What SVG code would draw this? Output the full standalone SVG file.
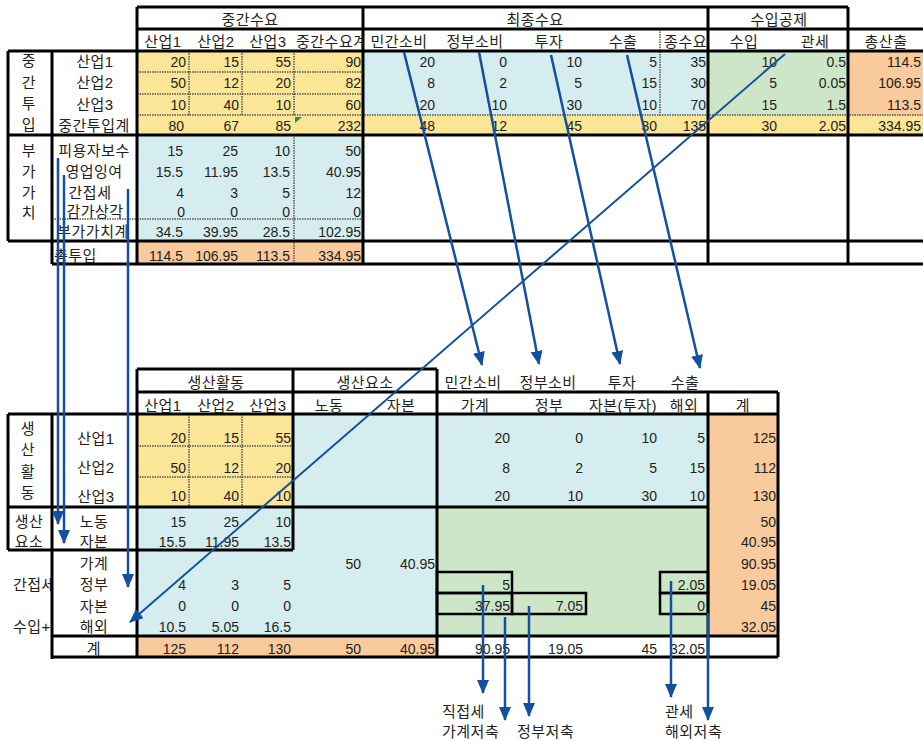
<svg xmlns="http://www.w3.org/2000/svg" width="923" height="741" viewBox="0 0 923 741">
<style>
text{font-family:"Liberation Sans","Noto Sans CJK KR",sans-serif;font-size:14px;fill:#231f20}
.k{font-size:15px;letter-spacing:0.5px}
.m{text-anchor:middle}
.e{text-anchor:end}
.y{fill:#FAE696}
.b{fill:#D5EDEE}
.g{fill:#CDE6C7}
.o{fill:#F8CA9C}
.t{stroke:#000;stroke-width:3;fill:none}
.d{stroke:#555;stroke-width:1.5;stroke-dasharray:1.5 1;fill:none}
.bx{stroke:#000;stroke-width:2.5;fill:none}
.c{stroke:#1450A0;stroke-width:2.5;fill:none;marker-end:url(#ah)}
.c2{stroke:#1450A0;stroke-width:2;fill:none;marker-end:url(#ah)}
</style>
<defs>
<marker id="ah" viewBox="0 0 14 12" refX="13" refY="6" markerWidth="14" markerHeight="12" markerUnits="userSpaceOnUse" orient="auto"><path d="M0,0L14,6L0,12z" fill="#1450A0"/></marker>
<clipPath id="c1"><rect x="294" y="29" width="69" height="22"/></clipPath>
<clipPath id="c2"><rect x="0" y="565" width="52" height="35"/></clipPath>
</defs>
<rect width="923" height="741" fill="#fff"/>

<g id="top-table">
<rect class="y" x="137" y="51" width="226" height="64"/>
<rect class="b" x="363" y="51" width="345" height="64"/>
<rect class="g" x="708" y="51" width="140" height="64"/>
<rect class="o" x="848" y="51" width="75" height="64"/>
<rect class="y" x="137" y="115" width="786" height="20"/>
<rect class="b" x="137" y="135" width="226" height="106"/>
<rect class="o" x="137" y="241" width="226" height="23"/>
<path class="d" d="M189,51V115M242,51V115M294,51V115M137,72H363M137,94H363M137,115H923M660,29V115M294,135V264M52,219H363"/>
<path class="t" d="M137,7H848M137,29H923M8,51H923M8,135H923M8,241H923M52,264H923M8,51V241M52,51V264M137,7V264M363,7V264M708,7V264M848,7V264"/>
<polygon points="295,117 302,117 295,123" fill="#3A8A3A"/>
</g>

<g id="top-headers">
<text class="k m" x="250" y="25">중간수요</text>
<text class="k m" x="535" y="25">최종수요</text>
<text class="k m" x="779" y="25">수입공제</text>
<text class="k m" x="163" y="47">산업1</text>
<text class="k m" x="216" y="47">산업2</text>
<text class="k m" x="268" y="47">산업3</text>
<text class="k" x="296" y="47" clip-path="url(#c1)">중간수요계</text>
<text class="k m" x="399" y="47">민간소비</text>
<text class="k m" x="475" y="47">정부소비</text>
<text class="k m" x="549" y="47">투자</text>
<text class="k m" x="623" y="47">수출</text>
<text class="k e" x="707" y="47">종수요</text>
<text class="k m" x="744" y="47">수입</text>
<text class="k m" x="815" y="47">관세</text>
<text class="k m" x="886" y="47">총산출</text>
</g>

<g id="top-row-labels">
<text class="k m" x="29" y="66">중</text>
<text class="k m" x="29" y="88">간</text>
<text class="k m" x="29" y="109">투</text>
<text class="k m" x="29" y="130">입</text>
<text class="k m" x="29" y="156">부</text>
<text class="k m" x="29" y="177">가</text>
<text class="k m" x="29" y="198">가</text>
<text class="k m" x="29" y="218">치</text>
<text class="k m" x="95" y="67">산업1</text>
<text class="k m" x="95" y="88">산업2</text>
<text class="k m" x="95" y="110">산업3</text>
<text class="k m" x="94" y="131">중간투입계</text>
<text class="k m" x="94" y="156">피용자보수</text>
<text class="k m" x="94" y="177">영업잉여</text>
<text class="k m" x="90" y="198">간접세</text>
<text class="k m" x="95" y="217">감가상각</text>
<text class="k m" x="93" y="237">부가가치계</text>
<text class="k" x="54" y="261">총투입</text>
</g>

<g id="top-values">
<text class="e" x="186" y="67">20</text><text class="e" x="239" y="67">15</text><text class="e" x="291" y="67">55</text><text class="e" x="361" y="67">90</text>
<text class="e" x="435" y="67">20</text><text class="e" x="507" y="67">0</text><text class="e" x="582" y="67">10</text><text class="e" x="657" y="67">5</text><text class="e" x="706" y="67">35</text>
<text class="e" x="777" y="67">10</text><text class="e" x="846" y="67">0.5</text><text class="e" x="921" y="67">114.5</text>

<text class="e" x="186" y="88">50</text><text class="e" x="239" y="88">12</text><text class="e" x="291" y="88">20</text><text class="e" x="361" y="88">82</text>
<text class="e" x="435" y="88">8</text><text class="e" x="507" y="88">2</text><text class="e" x="582" y="88">5</text><text class="e" x="657" y="88">15</text><text class="e" x="706" y="88">30</text>
<text class="e" x="777" y="88">5</text><text class="e" x="846" y="88">0.05</text><text class="e" x="921" y="88">106.95</text>

<text class="e" x="186" y="110">10</text><text class="e" x="239" y="110">40</text><text class="e" x="291" y="110">10</text><text class="e" x="361" y="110">60</text>
<text class="e" x="435" y="110">20</text><text class="e" x="507" y="110">10</text><text class="e" x="582" y="110">30</text><text class="e" x="657" y="110">10</text><text class="e" x="706" y="110">70</text>
<text class="e" x="777" y="110">15</text><text class="e" x="846" y="110">1.5</text><text class="e" x="921" y="110">113.5</text>

<text class="e" x="184" y="131">80</text><text class="e" x="239" y="131">67</text><text class="e" x="291" y="131">85</text><text class="e" x="361" y="131">232</text>
<text class="e" x="435" y="131">48</text><text class="e" x="507" y="131">12</text><text class="e" x="582" y="131">45</text><text class="e" x="657" y="131">30</text><text class="e" x="706" y="131">135</text>
<text class="e" x="777" y="131">30</text><text class="e" x="846" y="131">2.05</text><text class="e" x="921" y="131">334.95</text>

<text class="e" x="183" y="156">15</text><text class="e" x="238" y="156">25</text><text class="e" x="290" y="156">10</text><text class="e" x="361" y="156">50</text>
<text class="e" x="183" y="177">15.5</text><text class="e" x="238" y="177">11.95</text><text class="e" x="290" y="177">13.5</text><text class="e" x="361" y="177">40.95</text>
<text class="e" x="184" y="198">4</text><text class="e" x="238" y="198">3</text><text class="e" x="290" y="198">5</text><text class="e" x="361" y="198">12</text>
<text class="e" x="185" y="217">0</text><text class="e" x="238" y="217">0</text><text class="e" x="290" y="217">0</text><text class="e" x="361" y="217">0</text>
<text class="e" x="183" y="237">34.5</text><text class="e" x="238" y="237">39.95</text><text class="e" x="290" y="237">28.5</text><text class="e" x="361" y="237">102.95</text>
<text class="e" x="183" y="261">114.5</text><text class="e" x="238" y="261">106.95</text><text class="e" x="290" y="261">113.5</text><text class="e" x="361" y="261">334.95</text>
</g>

<g id="bottom-table">
<rect class="y" x="137" y="414" width="156" height="93"/>
<rect class="b" x="293" y="414" width="144" height="222"/>
<rect class="b" x="137" y="507" width="156" height="129"/>
<rect class="b" x="437" y="414" width="271" height="93"/>
<rect class="g" x="437" y="507" width="271" height="129"/>
<rect class="o" x="708" y="414" width="70" height="222"/>
<rect class="o" x="137" y="636" width="300" height="21"/>
<path class="d" d="M189,414V507M242,414V507M137,446H293M137,477H293"/>
<path class="t" d="M137,369H437M137,392H778M8,414H778M8,507H708M8,550H293M52,636H778M52,657H778M8,414V550M52,414V659M137,369V657M293,369V550M437,369V657M708,392V657M778,392V657"/>
</g>

<g id="bottom-boxes">
<rect class="bx" x="437" y="572" width="75" height="21"/>
<rect class="bx" x="437" y="593" width="75" height="21"/>
<rect class="bx" x="512" y="593" width="74" height="21"/>
<rect class="bx" x="660" y="572" width="48" height="21"/>
<rect class="bx" x="660" y="593" width="48" height="21"/>
</g>

<g id="bottom-headers">
<text class="k m" x="216" y="388">생산활동</text>
<text class="k m" x="365" y="388">생산요소</text>
<text class="k m" x="473" y="388">민간소비</text>
<text class="k m" x="548" y="388">정부소비</text>
<text class="k m" x="622" y="388">투자</text>
<text class="k m" x="685" y="388">수출</text>
<text class="k m" x="163" y="411">산업1</text>
<text class="k m" x="216" y="411">산업2</text>
<text class="k m" x="268" y="411">산업3</text>
<text class="k m" x="329" y="411">노동</text>
<text class="k m" x="401" y="411">자본</text>
<text class="k m" x="475" y="411">가계</text>
<text class="k m" x="549" y="411">정부</text>
<text class="k m" x="623" y="411">자본(투자)</text>
<text class="k m" x="684" y="411">해외</text>
<text class="k m" x="743" y="411">계</text>
</g>

<g id="bottom-row-labels">
<text class="k m" x="28" y="434">생</text>
<text class="k m" x="28" y="455">산</text>
<text class="k m" x="28" y="477">활</text>
<text class="k m" x="28" y="498">동</text>
<text class="k m" x="29" y="527">생산</text>
<text class="k m" x="29" y="547">요소</text>
<text class="k" x="13" y="590" clip-path="url(#c2)">간접세</text>
<text class="k" x="13" y="632">수입+</text>
<text class="k m" x="96" y="444">산업1</text>
<text class="k m" x="96" y="473">산업2</text>
<text class="k m" x="96" y="502">산업3</text>
<text class="k m" x="94" y="527">노동</text>
<text class="k m" x="94" y="547">자본</text>
<text class="k m" x="94" y="569">가계</text>
<text class="k m" x="94" y="590">정부</text>
<text class="k m" x="94" y="612">자본</text>
<text class="k m" x="94" y="632">해외</text>
<text class="k m" x="94" y="654">계</text>
</g>

<g id="bottom-values">
<text class="e" x="186" y="443">20</text><text class="e" x="239" y="443">15</text><text class="e" x="291" y="443">55</text>
<text class="e" x="510" y="443">20</text><text class="e" x="583" y="443">0</text><text class="e" x="657" y="443">10</text><text class="e" x="705" y="443">5</text><text class="e" x="776" y="443">125</text>
<text class="e" x="186" y="473">50</text><text class="e" x="239" y="473">12</text><text class="e" x="291" y="473">20</text>
<text class="e" x="510" y="473">8</text><text class="e" x="583" y="473">2</text><text class="e" x="657" y="473">5</text><text class="e" x="705" y="473">15</text><text class="e" x="776" y="473">112</text>
<text class="e" x="186" y="501">10</text><text class="e" x="239" y="501">40</text><text class="e" x="291" y="501">10</text>
<text class="e" x="510" y="501">20</text><text class="e" x="583" y="501">10</text><text class="e" x="657" y="501">30</text><text class="e" x="705" y="501">10</text><text class="e" x="776" y="501">130</text>
<text class="e" x="186" y="527">15</text><text class="e" x="239" y="527">25</text><text class="e" x="291" y="527">10</text><text class="e" x="776" y="527">50</text>
<text class="e" x="186" y="547">15.5</text><text class="e" x="239" y="547">11.95</text><text class="e" x="291" y="547">13.5</text><text class="e" x="776" y="547">40.95</text>
<text class="e" x="361" y="569">50</text><text class="e" x="435" y="569">40.95</text><text class="e" x="776" y="569">90.95</text>
<text class="e" x="186" y="590">4</text><text class="e" x="239" y="590">3</text><text class="e" x="291" y="590">5</text>
<text class="e" x="510" y="590">5</text><text class="e" x="705" y="590">2.05</text><text class="e" x="776" y="590">19.05</text>
<text class="e" x="186" y="611">0</text><text class="e" x="239" y="611">0</text><text class="e" x="291" y="611">0</text>
<text class="e" x="510" y="611">37.95</text><text class="e" x="583" y="611">7.05</text><text class="e" x="705" y="611">0</text><text class="e" x="776" y="611">45</text>
<text class="e" x="186" y="632">10.5</text><text class="e" x="239" y="632">5.05</text><text class="e" x="291" y="632">16.5</text><text class="e" x="776" y="632">32.05</text>
<text class="e" x="186" y="654">125</text><text class="e" x="239" y="654">112</text><text class="e" x="291" y="654">130</text><text class="e" x="361" y="654">50</text><text class="e" x="435" y="654">40.95</text>
<text class="e" x="510" y="654">90.95</text><text class="e" x="583" y="654">19.05</text><text class="e" x="657" y="654">45</text><text class="e" x="705" y="654">32.05</text>
</g>

<g id="connectors">
<path class="c" d="M404,52L482,365"/>
<path class="c" d="M479,52L539,364"/>
<path class="c" d="M551,55L620,364"/>
<path class="c" d="M627,55L700,368"/>
<path class="c2" d="M785,54L130,622"/>
<path class="c" d="M58,158V524"/>
<path class="c" d="M64,175V543"/>
<path class="c" d="M128,189V587"/>
<path class="c" d="M483,585V693"/>
<path class="c" d="M505,617V720"/>
<path class="c" d="M529,606V716"/>
<path class="c" d="M671,581V697"/>
<path class="c" d="M708,613V720"/>
</g>

<g id="outflow-labels">
<text class="k" x="442" y="717">직접세</text>
<text class="k" x="442" y="737">가계저축</text>
<text class="k" x="517" y="737">정부저축</text>
<text class="k" x="665" y="717">관세</text>
<text class="k" x="665" y="737">해외저축</text>
</g>
</svg>
